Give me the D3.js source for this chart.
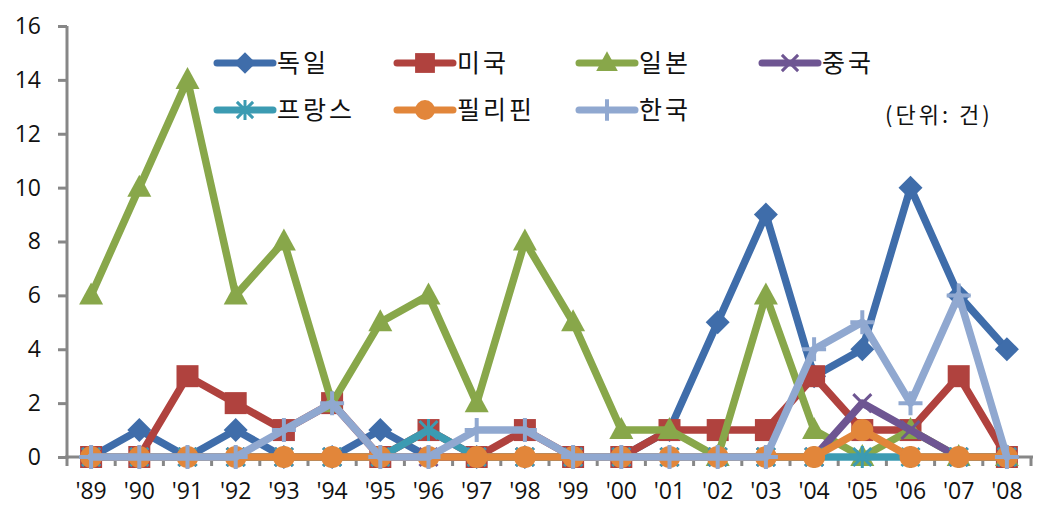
<!DOCTYPE html>
<html><head><meta charset="utf-8">
<script src="https://cdn.jsdelivr.net/npm/d3@7"></script>
<style>body{margin:0;background:#fff;}svg{display:block;}</style>
</head><body>
<script>
const categories = ["'89","'90","'91","'92","'93","'94","'95","'96","'97","'98","'99","'00","'01","'02","'03","'04","'05","'06","'07","'08"];
const germany   = [0,1,0,1,0,0,1,0,0,0,0,0,1,5,9,3,4,10,6,4];
const usa       = [0,0,3,2,1,2,0,1,0,1,0,0,1,1,1,3,1,1,3,0];
const japan     = [6,10,14,6,8,2,5,6,2,8,5,1,1,0,6,1,0,1,0,0];
const china     = [0,0,0,0,0,0,0,0,0,0,0,0,0,0,0,0,2,1,0,0];
const france    = [0,0,0,0,0,0,0,1,0,0,0,0,0,0,0,0,0,0,0,0];
const philippines=[0,0,0,0,0,0,0,0,0,0,0,0,0,0,0,0,1,0,0,0];
const korea     = [0,0,0,0,1,2,0,0,1,1,0,0,0,0,0,4,5,2,6,0];
const seriesNames = ["독일","미국","일본","중국","프랑스","필리핀","한국"];
const yTicks = [0,2,4,6,8,10,12,14,16];
const unitLabel = "(단위: 건)";

const series = [
  {name:seriesNames[0], values:germany, color:"#3F6DAA", marker:"diamond"},
  {name:seriesNames[1], values:usa, color:"#B0423E", marker:"square"},
  {name:seriesNames[2], values:japan, color:"#88A74A", marker:"triangle"},
  {name:seriesNames[3], values:china, color:"#6E5592", marker:"x"},
  {name:seriesNames[4], values:france, color:"#3C9BB2", marker:"star"},
  {name:seriesNames[5], values:philippines, color:"#E2863A", marker:"circle"},
  {name:seriesNames[6], values:korea, color:"#90A8D0", marker:"plus"}
];

const W=1052,H=523;
const svg=d3.select("body").append("svg").attr("width",W).attr("height",H);
const x=d3.scaleBand().domain(categories).range([67,1031]);
const y=d3.scaleLinear().domain([0,16]).range([457,26]);
const cx=d=>x(d)+x.bandwidth()/2;
const axisColor="#878787";
const numFont="'Open Sans', 'Noto Sans', sans-serif";
const krFont="'Noto Sans CJK KR', sans-serif";

// y axis
const yAxis=svg.append("g").attr("transform","translate(67,0)")
  .call(d3.axisLeft(y).tickValues(yTicks).tickSize(9).tickPadding(17).tickFormat(d3.format("d")));
yAxis.select(".domain").attr("stroke",axisColor).attr("stroke-width",3).attr("d","M0,26V459");
yAxis.selectAll(".tick line").attr("stroke",axisColor).attr("stroke-width",3);
yAxis.selectAll("text").attr("font-family",numFont).attr("font-size",23).attr("fill","#111");

// x axis
const xAxis=svg.append("g").attr("transform","translate(0,457)")
  .call(d3.axisBottom(x).tickSize(0).tickPadding(26));
xAxis.select(".domain").attr("stroke",axisColor).attr("stroke-width",3).attr("d","M65,0H1033");
xAxis.selectAll("text").attr("font-family",numFont).attr("font-size",23).attr("fill","#111");
const bounds=categories.map(c=>x(c)).concat([x(categories[categories.length-1])+x.bandwidth()]);
xAxis.selectAll(".bt").data(bounds).enter().append("line")
  .attr("x1",d=>d).attr("x2",d=>d).attr("y1",0).attr("y2",9)
  .attr("stroke",axisColor).attr("stroke-width",3);

function marker(g,type,color,s){
  s=s||1;
  switch(type){
    case "diamond": g.append("path").attr("d",`M0,${-12*s}L${12*s},0L0,${12*s}L${-12*s},0Z`).attr("fill",color); break;
    case "square": g.append("rect").attr("x",-11*s).attr("y",-11*s).attr("width",22*s).attr("height",22*s).attr("fill",color); break;
    case "triangle": g.append("path").attr("d",`M0,${-13*s}L${12*s},${9*s}L${-12*s},${9*s}Z`).attr("fill",color); break;
    case "circle": g.append("circle").attr("r",11*s).attr("fill",color); break;
    case "x": g.append("path").attr("d",`M${-9*s},${-9*s}L${9*s},${9*s}M${-9*s},${9*s}L${9*s},${-9*s}`).attr("stroke",color).attr("stroke-width",3); break;
    case "star": g.append("path").attr("d",`M${-9*s},${-9*s}L${9*s},${9*s}M${-9*s},${9*s}L${9*s},${-9*s}M0,${-11*s}V${11*s}`).attr("stroke",color).attr("stroke-width",3); break;
    case "plus": g.append("path").attr("d",`M${-12*s},0H${12*s}M0,${-12*s}V${12*s}`).attr("stroke",color).attr("stroke-width",4); break;
  }
}

const line=d3.line().x((d,i)=>cx(categories[i])).y(d=>y(d));
series.forEach(s=>{
  const g=svg.append("g");
  g.append("path").attr("d",line(s.values)).attr("fill","none").attr("stroke",s.color)
   .attr("stroke-width",7.5).attr("stroke-linejoin","round").attr("stroke-linecap","round");
  s.values.forEach((v,i)=>{
    const m=g.append("g").attr("transform",`translate(${cx(categories[i])},${y(v)})`);
    marker(m,s.marker,s.color);
  });
});

// legend
const legPos=[[217,63],[397,63],[579,63],[762,63],[217,110],[397,110],[579,110]];
series.forEach((s,i)=>{
  const [lx,ly]=legPos[i];
  const g=svg.append("g").attr("transform",`translate(${lx},${ly})`);
  g.append("line").attr("x1",0).attr("x2",56).attr("y1",0).attr("y2",0).attr("stroke",s.color)
   .attr("stroke-width",7).attr("stroke-linecap","round");
  const m=g.append("g").attr("transform","translate(28,0)");
  marker(m,s.marker,s.color,0.9);
  g.append("text").attr("x",60).attr("y",0).attr("dy","0.36em").attr("font-family",krFont)
   .attr("font-size",25).attr("letter-spacing",3).attr("fill","#111").text(s.name);
});
svg.append("text").attr("x",885).attr("y",115).attr("dy","0.36em").attr("font-family",krFont)
  .attr("font-size",22).attr("letter-spacing",3).attr("fill","#111").text(unitLabel);
</script>
</body></html>
